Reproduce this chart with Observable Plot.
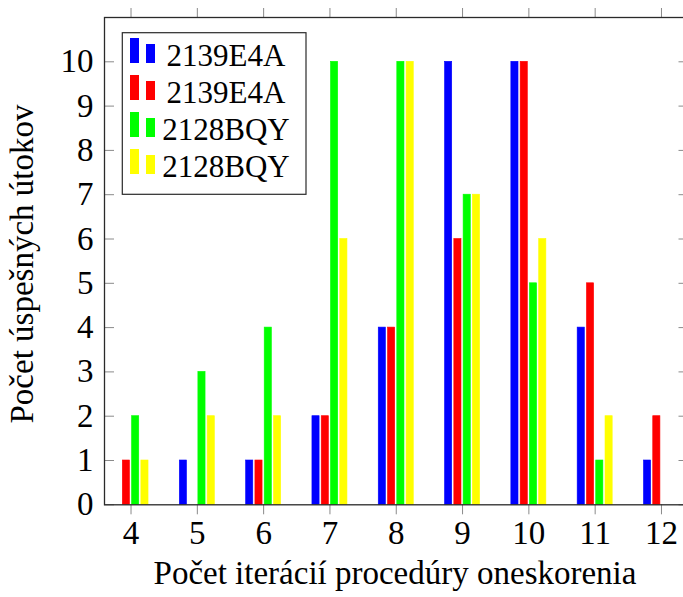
<!DOCTYPE html>
<html>
<head>
<meta charset="utf-8">
<script src="https://cdn.jsdelivr.net/npm/d3@7"></script>
<script src="https://cdn.jsdelivr.net/npm/@observablehq/plot@0.6"></script>
</head>
<body style="margin:0">
<div id="chart"></div>
<script>
// ---- data ----
const categories = [4, 5, 6, 7, 8, 9, 10, 11, 12];
const seriesNames = ["2139E4A", "2139E4A", "2128BQY", "2128BQY"];
const seriesColors = ["#0000ff", "#ff0000", "#00ff00", "#ffff00"];
const blueValues   = [0, 1, 1, 2, 4, 10, 10, 4, 1];
const redValues    = [1, 0, 1, 2, 4, 6, 10, 5, 2];
const greenValues  = [2, 3, 4, 10, 10, 7, 5, 1, 0];
const yellowValues = [1, 2, 2, 6, 10, 7, 6, 2, 0];
const yTicks = [0, 1, 2, 3, 4, 5, 6, 7, 8, 9, 10];
const xLabel = "Počet iterácií procedúry oneskorenia";
const yLabel = "Počet úspešných útokov";

const allSeries = [blueValues, redValues, greenValues, yellowValues];

// layout
const FONT = "Liberation Serif";
const FS = 33;
const step = 0.14;     // bar shift (x units)
const barW = 0.108;    // bar width (x units)
const tickColor = "#8a8a8a";
const frameColor = "#2a2a2a";

const barMarks = allSeries.map((vals, k) => {
  const off = (k - 1.5) * step;
  const rows = categories.map((c, i) => ({c, v: vals[i]}));
  return Plot.rectY(rows, {
    x1: d => d.c + off - barW / 2,
    x2: d => d.c + off + barW / 2,
    y1: 0,
    y2: "v",
    fill: seriesColors[k],
    stroke: seriesColors[k],
    strokeWidth: 0.6
  });
});

const chart = Plot.plot({
  width: 683,
  height: 596,
  marginLeft: 104,
  marginRight: -4.5,
  marginTop: 17,
  marginBottom: 91.7,
  style: {fontFamily: "Liberation Serif", fontSize: "33px"},
  x: {domain: [3.6, 12.4]},
  y: {domain: [0, 11]},
  marks: [
    ...barMarks,
    Plot.axisX(categories, {anchor: "bottom", tickSize: 10, tickPadding: 6, stroke: tickColor, fontSize: FS, label: null, tickFormat: d => String(d)}),
    Plot.axisX(categories, {anchor: "top", tickSize: 10, stroke: tickColor, label: null, tickFormat: () => ""}),
    Plot.axisY(yTicks, {anchor: "left", tickSize: -10, stroke: tickColor, label: null, tickFormat: () => ""}),
    Plot.axisY(yTicks, {anchor: "right", tickSize: -10, stroke: tickColor, label: null, tickFormat: () => ""}),
    Plot.axisY(yTicks, {anchor: "left", tickSize: 0, tickPadding: 11, fontSize: FS, label: null, tickFormat: d => String(d)}),
    Plot.frame({stroke: frameColor, strokeWidth: 1.3})
  ]
});

document.getElementById("chart").appendChild(chart);

const svg = d3.select(chart);

// axis labels
svg.append("text")
  .attr("x", 395)
  .attr("y", 584)
  .attr("text-anchor", "middle")
  .attr("font-family", FONT)
  .attr("font-size", FS)
  .attr("fill", "black")
  .text(xLabel);

svg.append("text")
  .attr("transform", "translate(33,264) rotate(-90)")
  .attr("text-anchor", "middle")
  .attr("font-family", FONT)
  .attr("font-size", FS)
  .attr("fill", "black")
  .text(yLabel);

// legend
const lg = svg.append("g");
lg.append("rect")
  .attr("x", 122.3).attr("y", 32.7)
  .attr("width", 306 - 122.3).attr("height", 194.3 - 32.7)
  .attr("fill", "white").attr("stroke", frameColor).attr("stroke-width", 1.2);
seriesNames.forEach((name, i) => {
  const base = 65.5 + 37 * i;
  lg.append("rect").attr("x", 130).attr("y", base - 27.5).attr("width", 9).attr("height", 25).attr("fill", seriesColors[i]);
  lg.append("rect").attr("x", 146).attr("y", base - 21.5).attr("width", 9).attr("height", 19).attr("fill", seriesColors[i]);
  lg.append("text")
    .attr("x", 226).attr("y", base)
    .attr("text-anchor", "middle")
    .attr("font-family", FONT)
    .attr("font-size", FS - 2)
    .attr("fill", "black")
    .text(name);
});
</script>
</body>
</html>
